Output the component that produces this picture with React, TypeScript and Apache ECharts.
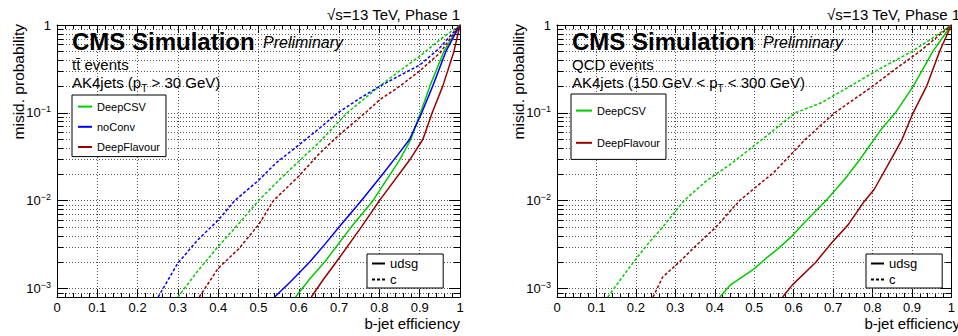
import React, { useEffect, useRef } from "react";
import * as echarts from "echarts";

const FONT = "'Liberation Sans', Arial, Helvetica, sans-serif";
const GREEN = "#00cc00";
const BLUE = "#0000ff";
const RED = "#990000";

// ---------- ttbar panel (left) ----------
const ttDeepCSV_udsg: [number, number][] = [
  [0.592, 8e-4], [0.625, 1.25e-3], [0.664, 2e-3], [0.73, 5e-3], [0.784, 1e-2],
  [0.85, 2.9e-2], [0.878, 5e-2], [0.902, 0.1], [0.925, 0.2], [0.96, 0.5], [1, 1],
];
const ttNoConv_udsg: [number, number][] = [
  [0.54, 8e-4], [0.58, 1.2e-3], [0.627, 2e-3], [0.665, 3.2e-3], [0.7, 5e-3],
  [0.755, 1e-2], [0.808, 2e-2], [0.845, 3.3e-2], [0.875, 5e-2], [0.905, 0.1],
  [0.932, 0.2], [0.965, 0.5], [1, 1],
];
const ttDeepFlavour_udsg: [number, number][] = [
  [0.631, 8e-4], [0.66, 1.25e-3], [0.693, 2e-3], [0.755, 5e-3], [0.8, 1e-2],
  [0.875, 2.9e-2], [0.908, 5e-2], [0.931, 0.1], [0.957, 0.2], [0.985, 0.5], [1, 1],
];
const ttDeepCSV_c: [number, number][] = [
  [0.3, 8e-4], [0.35, 1.6e-3], [0.4, 3.0e-3], [0.45, 5.4e-3], [0.5, 1.0e-2],
  [0.55, 1.7e-2], [0.6, 2.8e-2], [0.65, 4.6e-2], [0.7, 8e-2], [0.72, 0.1],
  [0.75, 0.13], [0.8, 0.2], [0.85, 0.3], [0.9, 0.44], [0.95, 0.68], [1, 1],
];
const ttNoConv_c: [number, number][] = [
  [0.251, 8e-4], [0.3, 1.95e-3], [0.35, 3.6e-3], [0.4, 6e-3], [0.441, 1e-2],
  [0.5, 1.7e-2], [0.544, 2.7e-2], [0.6, 4.3e-2], [0.65, 6.6e-2], [0.697, 0.1],
  [0.75, 0.145], [0.8, 0.2], [0.85, 0.265], [0.9, 0.35], [0.95, 0.55], [1, 1],
];
const ttDeepFlavour_c: [number, number][] = [
  [0.353, 8e-4], [0.4, 1.7e-3], [0.45, 2.8e-3], [0.5, 5.3e-3], [0.537, 1e-2],
  [0.6, 1.9e-2], [0.65, 3.4e-2], [0.7, 5.6e-2], [0.765, 0.1], [0.8, 0.14],
  [0.85, 0.2], [0.9, 0.3], [0.95, 0.48], [1, 1],
];

// ---------- QCD panel (right) ----------
const qcdDeepCSV_udsg: [number, number][] = [
  [0.413, 8e-4], [0.44, 1.1e-3], [0.497, 1.64e-3], [0.53, 2.2e-3], [0.563, 2.9e-3],
  [0.597, 4e-3], [0.63, 5.8e-3], [0.68, 9.8e-3], [0.729, 1.74e-2], [0.767, 2.9e-2],
  [0.821, 6.4e-2], [0.858, 0.1], [0.903, 0.2], [0.953, 0.5], [1, 1],
];
const qcdDeepFlavour_udsg: [number, number][] = [
  [0.572, 8e-4], [0.597, 1.1e-3], [0.655, 1.96e-3], [0.696, 3.3e-3], [0.738, 5.3e-3],
  [0.779, 9.8e-3], [0.804, 1.34e-2], [0.846, 2.9e-2], [0.875, 5e-2], [0.903, 0.1],
  [0.937, 0.2], [0.97, 0.5], [1, 1],
];
const qcdDeepCSV_c: [number, number][] = [
  [0.129, 8e-4], [0.16, 1.25e-3], [0.194, 2e-3], [0.23, 3.2e-3], [0.268, 5e-3],
  [0.322, 1e-2], [0.38, 1.7e-2], [0.44, 2.6e-2], [0.53, 5.4e-2], [0.604, 0.1],
  [0.67, 0.13], [0.742, 0.2], [0.82, 0.32], [0.9, 0.5], [0.95, 0.7], [1, 1],
];
const qcdDeepFlavour_c: [number, number][] = [
  [0.2435, 8e-4], [0.268, 1.35e-3], [0.31, 2e-3], [0.35, 3e-3], [0.403, 5e-3],
  [0.463, 1e-2], [0.51, 1.5e-2], [0.55, 2.1e-2], [0.63, 5e-2], [0.704, 0.1],
  [0.8, 0.2], [0.86, 0.32], [0.92, 0.5], [1, 1],
];

// ---------- axes ----------
const xTickLabels = ["0", "0.1", "0.2", "0.3", "0.4", "0.5", "0.6", "0.7", "0.8", "0.9", "1"];
const yMin = 0.0008;
const yMax = 1;
const yMajorTicks = [0.001, 0.01, 0.1, 1];
const yMajorLabels = ["10{sup|\u22123}", "10{sup|\u22122}", "10{sup|\u22121}", "1"];
const yMinorTicks = [
  0.0009,
  0.002, 0.003, 0.004, 0.005, 0.006, 0.007, 0.008, 0.009,
  0.02, 0.03, 0.04, 0.05, 0.06, 0.07, 0.08, 0.09,
  0.2, 0.3, 0.4, 0.5, 0.6, 0.7, 0.8, 0.9,
];

const legendModels = ["DeepCSV", "noConv", "DeepFlavour"];
const legendModelsQCD = ["DeepCSV", "DeepFlavour"];
const legendFlavours = ["udsg", "c"];

const GRID_LINE = "#555";

function xAxes(g: number) {
  const common = {
    type: "value",
    gridIndex: g,
    min: 0,
    max: 1,
    interval: 0.1,
    axisLine: { show: true, onZero: false, lineStyle: { color: "#000", width: 1 } },
    axisTick: { show: true, inside: true, length: 8, lineStyle: { color: "#000" } },
    minorTick: { show: true, splitNumber: 5, length: 4, lineStyle: { color: "#000" } },
  };
  return [
    {
      ...common,
      position: "bottom",
      axisLabel: {
        show: true,
        margin: 4,
        fontSize: 13,
        color: "#000",
        fontFamily: FONT,
        formatter: (v: number) => xTickLabels[Math.round(v * 10)] ?? "",
      },
      splitLine: { show: true, lineStyle: { color: GRID_LINE, type: [1, 2], width: 1 } },
    },
    {
      ...common,
      position: "top",
      axisLabel: { show: false },
      splitLine: { show: false },
    },
  ];
}

function yAxes(g: number) {
  const common = {
    type: "log",
    logBase: 10,
    gridIndex: g,
    min: yMin,
    max: yMax,
    axisLine: { show: true, onZero: false, lineStyle: { color: "#000", width: 1 } },
    axisTick: { show: true, inside: true, length: 11, lineStyle: { color: "#000" } },
  };
  return [
    {
      ...common,
      position: "left",
      axisLabel: {
        show: true,
        margin: 6,
        fontSize: 13,
        lineHeight: 16,
        color: "#000",
        fontFamily: FONT,
        formatter: (v: number) => {
          const i = yMajorTicks.findIndex((t) => Math.abs(Math.log10(t) - Math.log10(v)) < 1e-6);
          return i >= 0 ? yMajorLabels[i] : "";
        },
        rich: {
          sup: { fontSize: 9, lineHeight: 9, verticalAlign: "top", fontFamily: FONT, color: "#000" },
        },
      },
      splitLine: { show: true, lineStyle: { color: GRID_LINE, type: [1, 2], width: 1 } },
    },
    {
      ...common,
      position: "right",
      axisLabel: { show: false },
      splitLine: { show: false },
    },
  ];
}

function minorSeries(xi: number, yi: number) {
  return {
    type: "custom",
    xAxisIndex: xi,
    yAxisIndex: yi,
    silent: true,
    z: 1,
    data: yMinorTicks.map((v) => [0.5, v]),
    renderItem: (params: any, api: any) => {
      const cs = params.coordSys;
      const y = Math.round(api.coord([0.5, api.value(1)])[1]) + 0.5;
      return {
        type: "group",
        children: [
          {
            type: "line",
            shape: { x1: cs.x, y1: y, x2: cs.x + cs.width, y2: y },
            style: { stroke: GRID_LINE, lineWidth: 1, lineDash: [1, 2] },
          },
          {
            type: "line",
            shape: { x1: cs.x, y1: y, x2: cs.x + 6, y2: y },
            style: { stroke: "#000", lineWidth: 1 },
          },
          {
            type: "line",
            shape: { x1: cs.x + cs.width - 6, y1: y, x2: cs.x + cs.width, y2: y },
            style: { stroke: "#000", lineWidth: 1 },
          },
        ],
      };
    },
  };
}

function curve(name: string, data: [number, number][], color: string, dashed: boolean, xi: number, yi: number) {
  return {
    type: "line",
    name,
    data,
    xAxisIndex: xi,
    yAxisIndex: yi,
    symbol: "none",
    showSymbol: false,
    silent: true,
    z: 3,
    itemStyle: { color },
    lineStyle: { color, width: 1.5, type: dashed ? [3, 2] : "solid" },
  };
}

function legendBox(left: number, top: number, data: string[], opts: any) {
  return {
    left,
    top,
    orient: "vertical",
    data,
    selectedMode: false,
    borderColor: "#000",
    borderWidth: 1,
    borderRadius: 0,
    backgroundColor: "#fff",
    itemStyle: { opacity: 0 },
    textStyle: { fontFamily: FONT, color: "#000", fontSize: 11 },
    ...opts,
  };
}

function txt(x: number, y: number, text: string, style: any, extra: any = {}) {
  return {
    type: "text",
    x,
    y,
    silent: true,
    z: 10,
    ...extra,
    style: {
      text,
      fill: "#000",
      fontFamily: FONT,
      align: "left",
      textAlign: "left",
      verticalAlign: "middle",
      textVerticalAlign: "middle",
      ...style,
    },
  };
}

function panelTexts(dx: number, process: string, cutText: string) {
  return [
    txt(dx + 460, 14, "\u221As=13 TeV, Phase 1", { fontSize: 15, align: "right", textAlign: "right" }),
    txt(dx + 72, 41.6, "CMS Simulation", { fontSize: 24, fontWeight: "bold" }),
    txt(dx + 263, 42.6, "Preliminary", { fontSize: 16, fontStyle: "italic" }),
    txt(dx + 72, 64, process, { fontSize: 15 }),
    txt(dx + 72, 82, cutText, {
      fontSize: 15,
      lineHeight: 22,
      rich: { sub: { fontSize: 10, lineHeight: 12, verticalAlign: "bottom", fontFamily: FONT, fill: "#000" } },
    }),
    txt(dx + 18.5, 24, "misid. probability", { fontSize: 15.5, align: "right", textAlign: "right" }, { rotation: Math.PI / 2 }),
    txt(dx + 460, 323.5, "b-jet efficiency", { fontSize: 15, align: "right", textAlign: "right" }),
  ];
}

export default function App() {
  const ref = useRef<HTMLDivElement>(null);
  useEffect(() => {
    if (!ref.current) return;
    const chart = echarts.init(ref.current, null, { renderer: "svg", width: 958, height: 336 });
    const option: any = {
      animation: false,
      backgroundColor: "#fff",
      textStyle: { fontFamily: FONT },
      grid: [
        { left: 57, top: 25, width: 403, height: 272, containLabel: false },
        { left: 557, top: 25, width: 402, height: 272, containLabel: false },
      ],
      xAxis: [...xAxes(0), ...xAxes(1)],
      yAxis: [...yAxes(0), ...yAxes(1)],
      legend: [
        legendBox(72, 95, legendModels, { itemWidth: 14, itemHeight: 14, itemGap: 9, padding: [6, 6, 4, 5] }),
        legendBox(571, 94, legendModelsQCD, { itemWidth: 16, itemHeight: 14, itemGap: 21, padding: [11, 6, 11, 4] }),
        legendBox(367, 254, legendFlavours, {
          itemWidth: 13, itemHeight: 13, itemGap: 3, padding: [3, 25, 2, 4],
          textStyle: { fontFamily: FONT, color: "#000", fontSize: 13 },
        }),
        legendBox(866, 254, legendFlavours, {
          itemWidth: 13, itemHeight: 13, itemGap: 3, padding: [3, 25, 2, 4],
          textStyle: { fontFamily: FONT, color: "#000", fontSize: 13 },
        }),
      ],
      series: [
        minorSeries(0, 0),
        minorSeries(2, 2),
        curve("DeepCSV", ttDeepCSV_udsg, GREEN, false, 0, 0),
        curve("noConv", ttNoConv_udsg, BLUE, false, 0, 0),
        curve("DeepFlavour", ttDeepFlavour_udsg, RED, false, 0, 0),
        curve("DeepCSV", ttDeepCSV_c, GREEN, true, 0, 0),
        curve("noConv", ttNoConv_c, BLUE, true, 0, 0),
        curve("DeepFlavour", ttDeepFlavour_c, RED, true, 0, 0),
        curve("DeepCSV", qcdDeepCSV_udsg, GREEN, false, 2, 2),
        curve("DeepFlavour", qcdDeepFlavour_udsg, RED, false, 2, 2),
        curve("DeepCSV", qcdDeepCSV_c, GREEN, true, 2, 2),
        curve("DeepFlavour", qcdDeepFlavour_c, RED, true, 2, 2),
        curve("udsg", [], "#000", false, 0, 0),
        curve("c", [], "#000", true, 0, 0),
      ],
      graphic: [
        ...panelTexts(0, "tt\u0304 events", "AK4jets (p{sub|T} > 30 GeV)"),
        ...panelTexts(500, "QCD events", "AK4jets (150 GeV < p{sub|T} < 300 GeV)"),
      ],
    };
    chart.setOption(option);
    return () => chart.dispose();
  }, []);
  return (
    <div
      ref={ref}
      style={{ position: "fixed", left: 0, top: 0, width: 958, height: 336, background: "#fff" }}
    />
  );
}
